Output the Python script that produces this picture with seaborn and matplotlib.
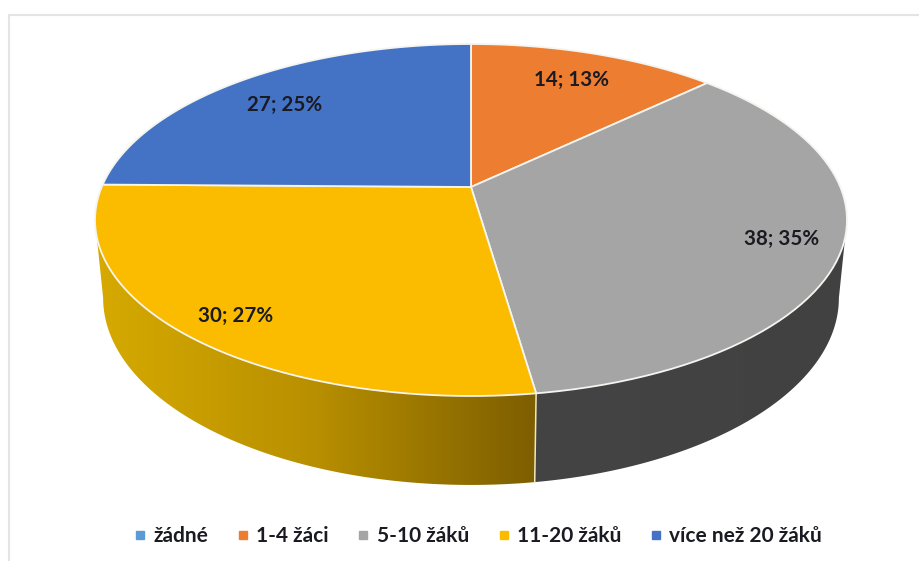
import numpy as np
import matplotlib
matplotlib.use("Agg")
import matplotlib.pyplot as plt
import matplotlib.transforms as mtransforms
from matplotlib.colors import LinearSegmentedColormap
from matplotlib.lines import Line2D
from matplotlib.path import Path
from matplotlib.patches import Polygon
import seaborn as sns

categories = ["žádné", "1-4 žáci", "5-10 žáků", "11-20 žáků", "více než 20 žáků"]
counts = [0, 14, 38, 30, 27]
percents = [0, 13, 35, 27, 25]
colors = ["#5B9BD5", "#ED7D31", "#A5A5A5", "#FBBC00", "#4472C4"]

sns.set_theme(style="white")
plt.rcParams["font.family"] = ["Lato", "DejaVu Sans"]

# perspective of the tilted disc, in image pixels
CX, CY = 471.0, 187.0
A, B, K = 369.3, 169.8, 0.1875
DROP, SHRINK = 77.6, 1.022
# the side silhouette of the disc touches the rim at this angle
TANGENT = np.degrees(np.arcsin(K))


def project(x, y, lower=False):
    w = 1 + K * y
    if lower:
        return CX + A * x / (w * SHRINK), CY + (DROP - B * y) / (w * SHRINK)
    return CX + A * x / w, CY - B * y / w


class Tilt(mtransforms.Transform):
    input_dims = output_dims = 2

    def transform_non_affine(self, values):
        values = np.asarray(values, dtype=float)
        return np.column_stack(project(values[:, 0], values[:, 1]))

    def transform_path_non_affine(self, path):
        # flatten the arcs first, the projection does not keep beziers
        big = path.transformed(mtransforms.Affine2D().scale(1000))
        poly = big.to_polygons(closed_only=True)[0] / 1000
        return Path(self.transform_non_affine(poly), closed=True)


def rim(theta1, theta2, lower=False):
    t = np.radians(np.linspace(theta1, theta2, 200))
    return np.column_stack(project(np.cos(t), np.sin(t), lower))


fig = plt.figure(figsize=(9.2, 5.61), dpi=100)
ax = fig.add_axes([0, 0, 1, 1])

wedges, _ = ax.pie(counts, colors=colors, startangle=90, counterclock=False,
                   wedgeprops=dict(edgecolor="#f4f4f0", linewidth=1.3))
ax.set_aspect("auto")

tilt = Tilt() + ax.transData
for w, n in zip(wedges, counts):
    w.set_transform(tilt)
    w.set_zorder(3)
    w.set_visible(n > 0)

# side walls, only the two front slices show
wall_maps = {
    2: LinearSegmentedColormap.from_list("gray_wall", ["#444444", "#414141"]),
    3: LinearSegmentedColormap.from_list("gold_wall", ["#D6AA00", "#B88F00", "#7D5E00"]),
}
for i, cmap in wall_maps.items():
    t1 = max(wedges[i].theta1, -180 + TANGENT)
    t2 = min(wedges[i].theta2, -TANGENT)
    top = rim(t1, t2)
    low = rim(t1, t2, lower=True)
    outline = np.vstack([top, low[::-1]])
    patch = Polygon(outline, closed=True, facecolor="none", edgecolor="none",
                    transform=ax.transData)
    ax.add_patch(patch)
    im = ax.imshow(np.linspace(0, 1, 256)[None, :], cmap=cmap, aspect="auto",
                   extent=(outline[:, 0].min(), outline[:, 0].max(), 500, 0), zorder=1)
    im.set_clip_path(patch)

# seam between the gray and the gold wall
seam = wedges[2].theta1
ax.plot(*zip(rim(seam, seam)[0], rim(seam, seam, lower=True)[0]), color="#F3E7B8", lw=1.1, zorder=2)

label_xy = [None, (572, 80), (782, 239), (236, 316), (285, 105)]
for n, p, xy in zip(counts, percents, label_xy):
    if n > 0:
        ax.text(xy[0], xy[1], f"{n}; {p}%", ha="center", va="center", fontsize=14.8,
                fontweight="bold", color="#1a1a22", zorder=5)

ax.set_xlim(0, 920)
ax.set_ylim(561, 0)
ax.axis("off")

# thin frame of the original chart area
ax.plot([9, 9], [561, 15], color="#E4E4E4", lw=1.5, zorder=0)
ax.plot([9, 920], [15, 15], color="#E4E4E4", lw=1.5, zorder=0)

handles = [Line2D([], [], marker="s", ls="none", color=c, markersize=5.2) for c in colors]
leg = ax.legend(handles, categories, loc="center", bbox_to_anchor=(478 / 920, 1 - 536 / 561),
                ncol=5, frameon=False, handlelength=0.6, handletextpad=0.35,
                columnspacing=1.35, prop=dict(weight="bold", size=15))
for t in leg.get_texts():
    t.set_color("#1a1a22")

fig.savefig("out.png", dpi=100)
